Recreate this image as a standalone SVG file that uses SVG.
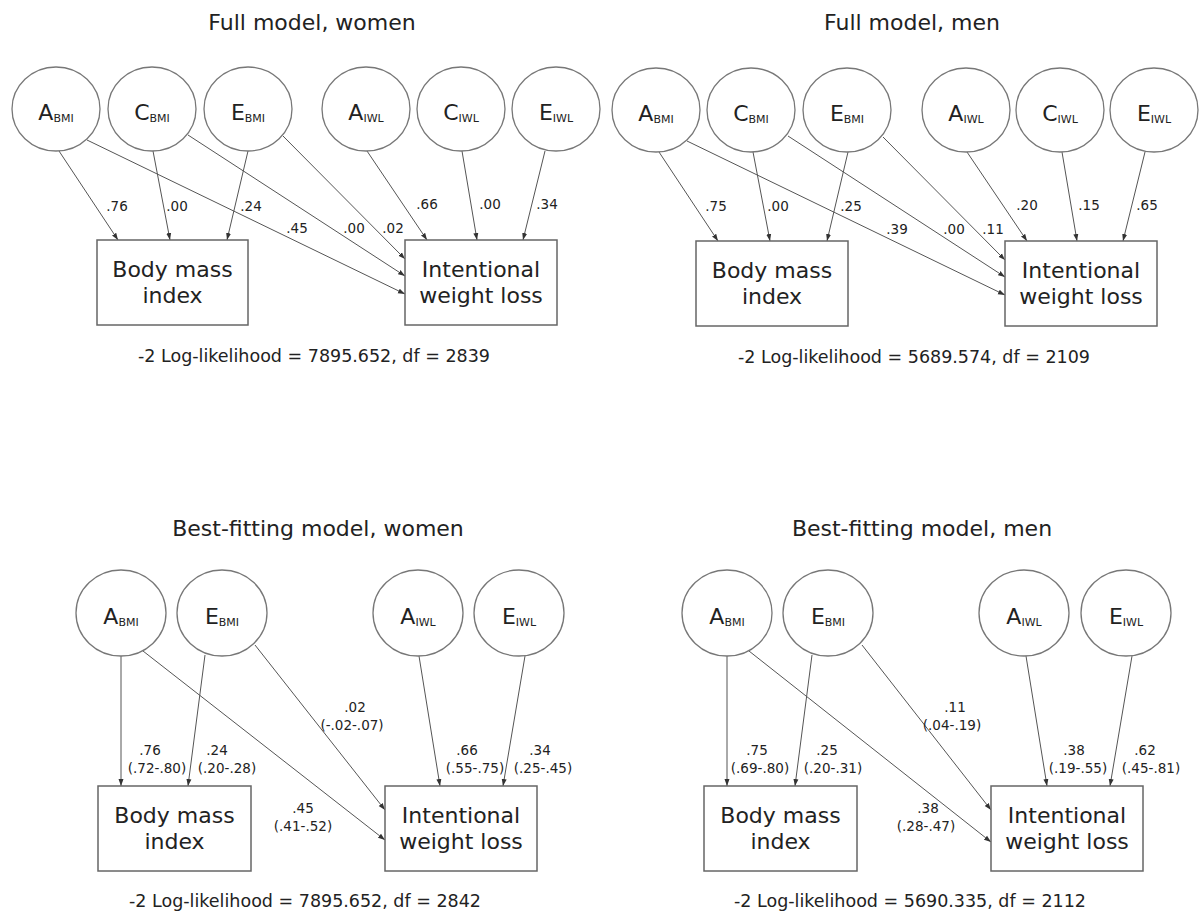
<svg xmlns="http://www.w3.org/2000/svg" width="1200" height="914" viewBox="0 0 1200 914">
<defs>
<marker id="ah" markerUnits="userSpaceOnUse" markerWidth="8" markerHeight="6" refX="7" refY="3" orient="auto">
<path d="M0,0.5 L7,3 L0,5.5 z" fill="#333"/>
</marker>
<style>
text{font-family:"DejaVu Sans","Verdana",sans-serif;fill:#222}
.title{font-size:22px;text-anchor:middle}
.ll{font-size:17.5px;text-anchor:middle}
.lat ellipse{fill:#fff;stroke:#777;stroke-width:1.3}
.lat text{font-size:22px;text-anchor:middle}
.lat tspan{font-size:11px}
.box rect{fill:#fff;stroke:#666;stroke-width:1.5}
.box text{font-size:22px;text-anchor:middle}
.conn line{stroke:#555;stroke-width:1;marker-end:url(#ah)}
.lbl{font-size:13.5px;text-anchor:middle}
</style>
</defs>
<rect width="1200" height="914" fill="#fff"/>

<!-- ===== Top-left: Full model, women ===== -->
<text class="title" x="312" y="30">Full model, women</text>
<g class="conn" id="tl-connectors">
<line x1="59" y1="151" x2="118" y2="240"/>
<line x1="153" y1="151" x2="170" y2="240"/>
<line x1="248" y1="151" x2="227" y2="240"/>
<line x1="367" y1="151" x2="427" y2="240"/>
<line x1="462" y1="151" x2="477" y2="240"/>
<line x1="545" y1="151" x2="523" y2="240"/>
<line x1="87" y1="140" x2="405" y2="294"/>
<line x1="188" y1="135" x2="405" y2="276"/>
<line x1="283" y1="136" x2="405" y2="259"/>
</g>
<g id="tl-labels">
<text class="lbl" x="117" y="211">.76</text>
<text class="lbl" x="177" y="211">.00</text>
<text class="lbl" x="251" y="211">.24</text>
<text class="lbl" x="297" y="233">.45</text>
<text class="lbl" x="354" y="233">.00</text>
<text class="lbl" x="393" y="233">.02</text>
<text class="lbl" x="427" y="209">.66</text>
<text class="lbl" x="490" y="209">.00</text>
<text class="lbl" x="547" y="209">.34</text>
</g>
<g class="lat" id="tl-A-BMI"><ellipse cx="56" cy="109" rx="44" ry="42"/><text x="56" y="120">A<tspan dy="2">BMI</tspan></text></g>
<g class="lat" id="tl-C-BMI"><ellipse cx="152" cy="109" rx="44" ry="42"/><text x="152" y="120">C<tspan dy="2">BMI</tspan></text></g>
<g class="lat" id="tl-E-BMI"><ellipse cx="248" cy="109" rx="44" ry="42"/><text x="248" y="120">E<tspan dy="2">BMI</tspan></text></g>
<g class="lat" id="tl-A-IWL"><ellipse cx="366" cy="109" rx="44" ry="42"/><text x="366" y="120">A<tspan dy="2">IWL</tspan></text></g>
<g class="lat" id="tl-C-IWL"><ellipse cx="461" cy="109" rx="44" ry="42"/><text x="461" y="120">C<tspan dy="2">IWL</tspan></text></g>
<g class="lat" id="tl-E-IWL"><ellipse cx="556" cy="109" rx="44" ry="42"/><text x="556" y="120">E<tspan dy="2">IWL</tspan></text></g>
<g class="box" id="tl-BMI"><rect x="97" y="240" width="151" height="85"/><text x="172.5" y="277">Body mass</text><text x="172.5" y="303">index</text></g>
<g class="box" id="tl-IWL"><rect x="405" y="240" width="152" height="85"/><text x="481" y="277">Intentional</text><text x="481" y="303">weight loss</text></g>
<text class="ll" x="314" y="362">-2 Log-likelihood = 7895.652, df = 2839</text>

<!-- ===== Top-right: Full model, men ===== -->
<text class="title" x="912" y="30">Full model, men</text>
<g class="conn" id="tr-connectors">
<line x1="659" y1="152" x2="718" y2="241"/>
<line x1="753" y1="152" x2="770" y2="241"/>
<line x1="848" y1="152" x2="827" y2="241"/>
<line x1="967" y1="152" x2="1027" y2="241"/>
<line x1="1062" y1="152" x2="1077" y2="241"/>
<line x1="1145" y1="152" x2="1123" y2="241"/>
<line x1="687" y1="141" x2="1005" y2="295"/>
<line x1="788" y1="136" x2="1005" y2="277"/>
<line x1="883" y1="137" x2="1005" y2="260"/>
</g>
<g id="tr-labels">
<text class="lbl" x="716" y="211">.75</text>
<text class="lbl" x="778" y="211">.00</text>
<text class="lbl" x="851" y="211">.25</text>
<text class="lbl" x="897" y="234">.39</text>
<text class="lbl" x="954" y="234">.00</text>
<text class="lbl" x="993" y="234">.11</text>
<text class="lbl" x="1027" y="210">.20</text>
<text class="lbl" x="1089" y="210">.15</text>
<text class="lbl" x="1147" y="210">.65</text>
</g>
<g class="lat" id="tr-A-BMI"><ellipse cx="656" cy="110" rx="44" ry="42"/><text x="656" y="121">A<tspan dy="2">BMI</tspan></text></g>
<g class="lat" id="tr-C-BMI"><ellipse cx="751" cy="110" rx="44" ry="42"/><text x="751" y="121">C<tspan dy="2">BMI</tspan></text></g>
<g class="lat" id="tr-E-BMI"><ellipse cx="847" cy="110" rx="44" ry="42"/><text x="847" y="121">E<tspan dy="2">BMI</tspan></text></g>
<g class="lat" id="tr-A-IWL"><ellipse cx="966" cy="110" rx="44" ry="42"/><text x="966" y="121">A<tspan dy="2">IWL</tspan></text></g>
<g class="lat" id="tr-C-IWL"><ellipse cx="1060" cy="110" rx="44" ry="42"/><text x="1060" y="121">C<tspan dy="2">IWL</tspan></text></g>
<g class="lat" id="tr-E-IWL"><ellipse cx="1154" cy="110" rx="44" ry="42"/><text x="1154" y="121">E<tspan dy="2">IWL</tspan></text></g>
<g class="box" id="tr-BMI"><rect x="696" y="241" width="152" height="85"/><text x="772" y="278">Body mass</text><text x="772" y="304">index</text></g>
<g class="box" id="tr-IWL"><rect x="1005" y="241" width="152" height="85"/><text x="1081" y="278">Intentional</text><text x="1081" y="304">weight loss</text></g>
<text class="ll" x="914" y="363">-2 Log-likelihood = 5689.574, df = 2109</text>

<!-- ===== Bottom-left: Best-fitting model, women ===== -->
<text class="title" x="318" y="536">Best-fitting model, women</text>
<g class="conn" id="bl-connectors">
<line x1="121" y1="656" x2="121" y2="786"/>
<line x1="205" y1="655" x2="188" y2="786"/>
<line x1="419" y1="656" x2="440" y2="786"/>
<line x1="525" y1="656" x2="503" y2="786"/>
<line x1="143" y1="651" x2="385" y2="840"/>
<line x1="255" y1="645" x2="385" y2="810"/>
</g>
<g id="bl-labels">
<text class="lbl" x="150" y="755">.76</text>
<text class="lbl" x="157" y="773">(.72-.80)</text>
<text class="lbl" x="217" y="755">.24</text>
<text class="lbl" x="227" y="773">(.20-.28)</text>
<text class="lbl" x="303" y="813">.45</text>
<text class="lbl" x="303" y="831">(.41-.52)</text>
<text class="lbl" x="355" y="712">.02</text>
<text class="lbl" x="352" y="730">(-.02-.07)</text>
<text class="lbl" x="467" y="755">.66</text>
<text class="lbl" x="475" y="773">(.55-.75)</text>
<text class="lbl" x="540" y="755">.34</text>
<text class="lbl" x="543" y="773">(.25-.45)</text>
</g>
<g class="lat" id="bl-A-BMI"><ellipse cx="121" cy="613" rx="45" ry="43"/><text x="121" y="624">A<tspan dy="2">BMI</tspan></text></g>
<g class="lat" id="bl-E-BMI"><ellipse cx="222" cy="613" rx="45" ry="43"/><text x="222" y="624">E<tspan dy="2">BMI</tspan></text></g>
<g class="lat" id="bl-A-IWL"><ellipse cx="418" cy="613" rx="45" ry="43"/><text x="418" y="624">A<tspan dy="2">IWL</tspan></text></g>
<g class="lat" id="bl-E-IWL"><ellipse cx="519" cy="613" rx="45" ry="43"/><text x="519" y="624">E<tspan dy="2">IWL</tspan></text></g>
<g class="box" id="bl-BMI"><rect x="98" y="786" width="153" height="85"/><text x="174.5" y="823">Body mass</text><text x="174.5" y="849">index</text></g>
<g class="box" id="bl-IWL"><rect x="385" y="786" width="152" height="85"/><text x="461" y="823">Intentional</text><text x="461" y="849">weight loss</text></g>
<text class="ll" x="305" y="907">-2 Log-likelihood = 7895.652, df = 2842</text>

<!-- ===== Bottom-right: Best-fitting model, men ===== -->
<text class="title" x="922" y="536">Best-fitting model, men</text>
<g class="conn" id="br-connectors">
<line x1="727" y1="656" x2="727" y2="786"/>
<line x1="812" y1="655" x2="795" y2="786"/>
<line x1="1026" y1="656" x2="1047" y2="786"/>
<line x1="1132" y1="656" x2="1110" y2="786"/>
<line x1="749" y1="651" x2="991" y2="842"/>
<line x1="862" y1="645" x2="991" y2="810"/>
</g>
<g id="br-labels">
<text class="lbl" x="757" y="755">.75</text>
<text class="lbl" x="760" y="773">(.69-.80)</text>
<text class="lbl" x="827" y="755">.25</text>
<text class="lbl" x="833" y="773">(.20-.31)</text>
<text class="lbl" x="928" y="813">.38</text>
<text class="lbl" x="926" y="831">(.28-.47)</text>
<text class="lbl" x="955" y="712">.11</text>
<text class="lbl" x="952" y="730">(.04-.19)</text>
<text class="lbl" x="1074" y="755">.38</text>
<text class="lbl" x="1078" y="773">(.19-.55)</text>
<text class="lbl" x="1145" y="755">.62</text>
<text class="lbl" x="1151" y="773">(.45-.81)</text>
</g>
<g class="lat" id="br-A-BMI"><ellipse cx="727" cy="613" rx="45" ry="43"/><text x="727" y="624">A<tspan dy="2">BMI</tspan></text></g>
<g class="lat" id="br-E-BMI"><ellipse cx="828" cy="613" rx="45" ry="43"/><text x="828" y="624">E<tspan dy="2">BMI</tspan></text></g>
<g class="lat" id="br-A-IWL"><ellipse cx="1024" cy="613" rx="45" ry="43"/><text x="1024" y="624">A<tspan dy="2">IWL</tspan></text></g>
<g class="lat" id="br-E-IWL"><ellipse cx="1126" cy="613" rx="45" ry="43"/><text x="1126" y="624">E<tspan dy="2">IWL</tspan></text></g>
<g class="box" id="br-BMI"><rect x="704" y="786" width="153" height="85"/><text x="780.5" y="823">Body mass</text><text x="780.5" y="849">index</text></g>
<g class="box" id="br-IWL"><rect x="991" y="786" width="152" height="85"/><text x="1067" y="823">Intentional</text><text x="1067" y="849">weight loss</text></g>
<text class="ll" x="910" y="907">-2 Log-likelihood = 5690.335, df = 2112</text>
</svg>
